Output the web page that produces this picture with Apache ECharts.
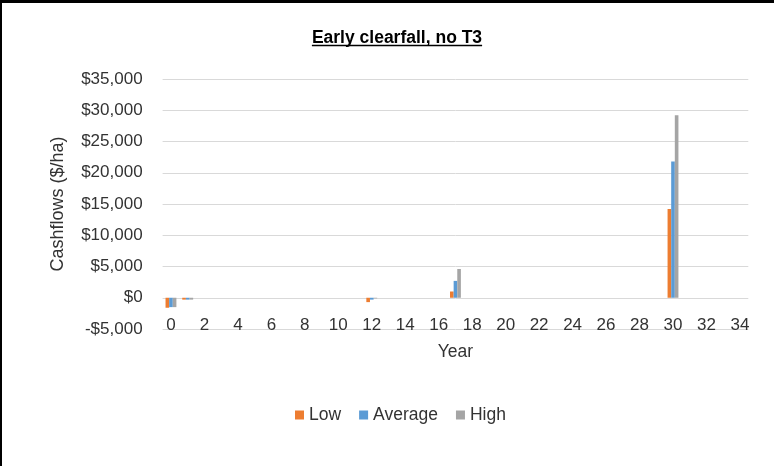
<!DOCTYPE html>
<html>
<head>
<meta charset="utf-8">
<script src="https://cdn.jsdelivr.net/npm/echarts@6/dist/echarts.min.js"></script>
<style>
html,body{margin:0;padding:0;background:#fff;}
#c{width:774px;height:466px;}
</style>
</head>
<body>
<div id="c"></div>
<script>
const titleText = 'Early clearfall, no T3';
const years = Array.from({length: 35}, (_, i) => String(i));
const seriesNames = ['Low', 'Average', 'High'];
const low     = [-1600, -300, 0,0,0,0,0,0,0,0,0,0, -700, 0,0,0,0, 1000, 0,0,0,0,0,0,0,0,0,0,0,0, 14200, 0,0,0,0];
const average = [-1500, -300, 0,0,0,0,0,0,0,0,0,0, -300, 0,0,0,0, 2700, 0,0,0,0,0,0,0,0,0,0,0,0, 21800, 0,0,0,0];
const high    = [-1500, -300, 0,0,0,0,0,0,0,0,0,0, -100, 0,0,0,0, 4600, 0,0,0,0,0,0,0,0,0,0,0,0, 29200, 0,0,0,0];
const colors = ['#ED7D31', '#5B9BD5', '#A5A5A5'];

const FONT = '"Liberation Sans", Arial, sans-serif';

function fmt(v){
  const s = Math.abs(v).toLocaleString('en-US');
  return (v < 0 ? '-$' : '$') + s;
}

const tcx = 397;

const chart = echarts.init(document.getElementById('c'), null, {renderer: 'canvas'});
chart.setOption({
  animation: false,
  backgroundColor: '#fff',
  color: colors,
  graphic: [
    {type: 'text', x: tcx, y: 29, style: {text: titleText, fill: '#000', font: 'bold 17.5px ' + FONT, textAlign: 'center', textVerticalAlign: 'top'}},
    {type: 'rect', shape: {x: 0, y: 0, width: 774, height: 3}, style: {fill: '#000'}},
    {type: 'rect', shape: {x: 0, y: 0, width: 2, height: 466}, style: {fill: '#000'}}
  ],
  legend: {
    data: seriesNames,
    top: 401, left: 290,
    icon: 'rect', itemWidth: 9, itemHeight: 9, itemGap: 18,
    textStyle: {fontFamily: FONT, fontSize: 17.5, color: '#333'}
  },
  grid: {left: 162.6, right: 25.7, top: 79, bottom: 137, containLabel: false},
  xAxis: {
    type: 'category', data: years,
    name: 'Year', nameLocation: 'middle', nameGap: 14,
    nameTextStyle: {fontFamily: FONT, fontSize: 17.5, color: '#333', verticalAlign: 'top'},
    axisLine: {show: false}, axisTick: {show: false},
    axisLabel: {interval: 1, margin: -12, fontFamily: FONT, fontSize: 17, color: '#333'}
  },
  yAxis: {
    type: 'value', min: -5000, max: 35000, interval: 5000,
    name: 'Cashflows ($/ha)', nameLocation: 'middle', nameGap: 96,
    nameTextStyle: {fontFamily: FONT, fontSize: 18, color: '#333'},
    axisLine: {show: false}, axisTick: {show: false},
    axisLabel: {margin: 20, fontFamily: FONT, fontSize: 17, color: '#333', formatter: fmt},
    splitLine: {lineStyle: {color: '#D9D9D9', width: 1}}
  },
  series: [
    {name: 'Low', type: 'bar', data: low, barGap: '0%', barCategoryGap: '35%'},
    {name: 'Average', type: 'bar', data: average, barGap: '0%', barCategoryGap: '35%'},
    {name: 'High', type: 'bar', data: high, barGap: '0%', barCategoryGap: '35%'}
  ]
});

// underline the title, measured from the rendered text
const cv = document.createElement('canvas').getContext('2d');
cv.font = 'bold 17.5px ' + FONT;
const tw = cv.measureText(titleText).width;
chart.setOption({
  graphic: [
    {type: 'text', x: tcx, y: 29, style: {text: titleText, fill: '#000', font: 'bold 17.5px ' + FONT, textAlign: 'center', textVerticalAlign: 'top'}},
    {type: 'rect', shape: {x: 0, y: 0, width: 774, height: 3}, style: {fill: '#000'}},
    {type: 'rect', shape: {x: 0, y: 0, width: 2, height: 466}, style: {fill: '#000'}},
    {type: 'line', shape: {x1: tcx - tw/2, y1: 45.5, x2: tcx + tw/2, y2: 45.5}, style: {stroke: '#000', lineWidth: 1.3}}
  ]
});
</script>
</body>
</html>
